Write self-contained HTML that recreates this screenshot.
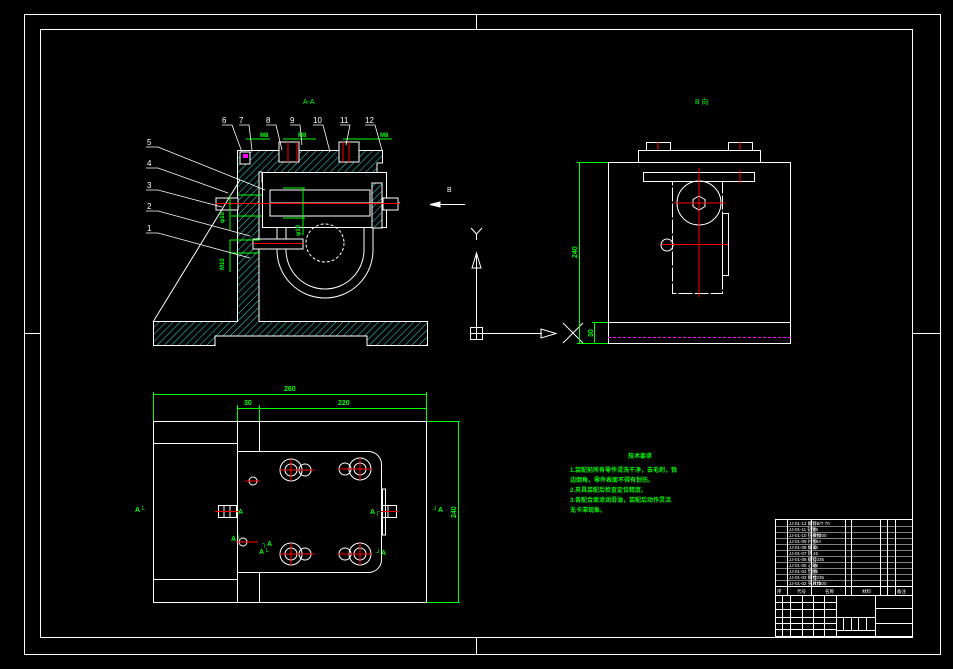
<!DOCTYPE html>
<html><head><meta charset="utf-8"><style>
html,body{margin:0;padding:0;background:#000;}
svg{display:block;}
text{font-family:"Liberation Sans","Noto Sans CJK SC",sans-serif;}
</style></head><body>
<svg width="953" height="669" viewBox="0 0 953 669" xmlns="http://www.w3.org/2000/svg">
<defs>
<pattern id="h" width="5" height="5" patternUnits="userSpaceOnUse" patternTransform="rotate(45)">
<rect width="5" height="5" fill="#000"/><line x1="0" y1="0" x2="0" y2="5" stroke="#2ee0e0" stroke-width="1"/>
</pattern>
</defs>
<rect width="953" height="669" fill="#000"/>
<g fill="none" stroke="#fff" stroke-width="1">
<rect x="24.5" y="14.5" width="916" height="640"/>
<rect x="40.5" y="29.5" width="872" height="608"/>
<line x1="476.5" y1="14" x2="476.5" y2="29"/><line x1="476.5" y1="638" x2="476.5" y2="654"/>
<line x1="24" y1="333.5" x2="40" y2="333.5"/><line x1="913" y1="333.5" x2="940" y2="333.5"/>
</g>

<!-- Section A-A -->
<text x="303" y="104" fill="#0f0" font-size="7">A-A</text>
<g stroke="#fff" stroke-width="1">
<path d="M153.5 321.5 H237.5 V150.5 H382.5 V163 H377 V200 H372 V182 H262 V172 H259 V321.5 H427.5 V345.5 H367 V336 H215 V345.5 H153.5 Z" fill="url(#h)"/>
<rect x="262.5" y="172.5" width="124" height="55" fill="#000"/>
<rect x="372" y="183" width="10" height="45" fill="url(#h)"/>
<path d="M277 228 V250 A48 48 0 0 0 373 250 V228" fill="none"/>
<path d="M286 228 V250 A39 39 0 0 0 364 250 V228" fill="none"/>
<circle cx="325" cy="243" r="19" fill="none" stroke-dasharray="3 2"/>
<rect x="270" y="190" width="100" height="26" fill="#000"/>
<line x1="270" y1="203" x2="400" y2="203"/>
<rect x="216" y="198" width="22" height="12" fill="#000"/>
<rect x="383" y="198" width="15" height="12" fill="#000"/>
<rect x="253" y="239" width="50" height="10" fill="#000"/>
<rect x="240" y="152" width="10" height="12" fill="#000"/>
<rect x="279" y="142" width="20" height="20" fill="#000"/>
<rect x="339" y="142" width="20" height="20" fill="#000"/>
<line x1="153" y1="322" x2="240" y2="180"/>
</g>
<g stroke="#f00" stroke-width="1">
<line x1="215" y1="203.5" x2="400" y2="203.5"/>
<line x1="253" y1="243.5" x2="303" y2="243.5"/>
<line x1="288" y1="142" x2="288" y2="162"/><line x1="349" y1="142" x2="349" y2="162"/>
<line x1="297" y1="142" x2="297" y2="162"/><line x1="343" y1="142" x2="343" y2="162"/>
</g>
<rect x="243" y="154" width="5" height="4" fill="#f0f"/>
<g stroke="#0f0" stroke-width="1" fill="none">
<line x1="238" y1="195" x2="262" y2="195"/><line x1="231" y1="216" x2="262" y2="216"/>
<line x1="230" y1="195" x2="230" y2="230"/>
<line x1="283" y1="188" x2="305" y2="188"/><line x1="283" y1="218" x2="305" y2="218"/><line x1="303" y1="188" x2="303" y2="235"/>
<line x1="230" y1="240" x2="260" y2="240"/><line x1="230" y1="253" x2="260" y2="253"/><line x1="230" y1="240" x2="230" y2="272"/>
<line x1="246" y1="139" x2="270" y2="139"/><line x1="283" y1="139" x2="316" y2="139"/><line x1="343" y1="139" x2="392" y2="139"/>
</g>
<g fill="#0f0" font-size="6" font-weight="bold">
<text x="260" y="137">M8</text><text x="298" y="137">M8</text><text x="380" y="137">M8</text>
<text x="224" y="223" transform="rotate(-90 224 223)">φ10</text>
<text x="300" y="236" transform="rotate(-90 300 236)">φ10</text>
<text x="224" y="270" transform="rotate(-90 224 270)">M10</text>
</g>
<g fill="#fff" font-size="8">
<text x="147" y="145">5</text><text x="147" y="166">4</text><text x="147" y="188">3</text><text x="147" y="209">2</text><text x="147" y="231">1</text>
<text x="222" y="123">6</text><text x="239" y="123">7</text><text x="266" y="123">8</text><text x="290" y="123">9</text><text x="313" y="123">10</text><text x="340" y="123">11</text><text x="365" y="123">12</text>
</g>
<g stroke="#fff" stroke-width="0.8" fill="none">
<polyline points="146,147 158,147 265,190"/>
<polyline points="146,168 158,168 228,193"/>
<polyline points="146,190 158,190 222,207"/>
<polyline points="146,211 158,211 250,236"/>
<polyline points="146,233 158,233 250,258"/>
<polyline points="222,125 232,125 242,152"/>
<polyline points="239,125 249,125 252,150"/>
<polyline points="266,125 276,125 282,150"/>
<polyline points="290,125 300,125 302,145"/>
<polyline points="313,125 323,125 330,152"/>
<polyline points="340,125 350,125 346,145"/>
<polyline points="365,125 375,125 382,150"/>
</g>
<g stroke="#fff" fill="#fff">
<line x1="430" y1="204.5" x2="465" y2="204.5"/>
<polygon points="430,204.5 440,202 440,207"/>
</g>
<text x="447" y="192" fill="#fff" font-size="7">B</text>

<!-- axes -->
<g stroke="#fff" fill="none">
<line x1="476.5" y1="255" x2="476.5" y2="339"/>
<polygon points="476.5,253 472,268 481,268"/>
<line x1="470" y1="333.5" x2="542" y2="333.5"/>
<polygon points="556,333.5 541,329 541,338"/>
<rect x="470.5" y="327.5" width="12" height="12"/>
<polyline points="471,228 476.5,234 482,228"/><line x1="476.5" y1="234" x2="476.5" y2="240"/>
</g>

<!-- Right view -->
<text x="695" y="104" fill="#0f0" font-size="7">B 向</text>
<g stroke="#fff" fill="none">
<rect x="608.5" y="162.5" width="182" height="181"/>
<line x1="608" y1="322.5" x2="791" y2="322.5"/>
<rect x="638.5" y="150.5" width="122" height="12"/>
<rect x="646.5" y="142.5" width="24" height="8"/><rect x="728.5" y="142.5" width="24" height="8"/>
<rect x="643.5" y="172.5" width="111" height="9"/>
<circle cx="699" cy="203" r="22"/>
<polygon points="699,196 705,199.5 705,206.5 699,210 693,206.5 693,199.5"/>
<rect x="672.5" y="181.5" width="50" height="112" stroke-dasharray="14 2"/>
<rect x="722.5" y="213.5" width="6" height="62"/>
<circle cx="667" cy="245" r="6"/>
<polyline points="563,323 583,343"/><polyline points="583,323 563,343"/>
</g>
<g stroke="#f00">
<line x1="699" y1="168" x2="699" y2="297"/><line x1="674" y1="203" x2="725" y2="203"/>
<line x1="662" y1="244.5" x2="728" y2="244.5"/>
<line x1="658" y1="142" x2="658" y2="150"/><line x1="740" y1="142" x2="740" y2="150"/><line x1="740" y1="170" x2="740" y2="183"/>
</g>
<line x1="608" y1="337.5" x2="791" y2="337.5" stroke="#f0f" stroke-dasharray="3 2"/>
<g stroke="#0f0" fill="none">
<line x1="579.5" y1="162" x2="579.5" y2="344"/>
<line x1="577" y1="162.5" x2="608" y2="162.5"/><line x1="577" y1="343.5" x2="608" y2="343.5"/>
<line x1="594.5" y1="322" x2="594.5" y2="344"/><line x1="592" y1="322.5" x2="608" y2="322.5"/>
</g>
<g fill="#0f0" font-size="7" font-weight="bold">
<text x="577" y="258" transform="rotate(-90 577 258)">240</text>
<text x="593" y="337" transform="rotate(-90 593 337)">30</text>
</g>

<!-- Plan view -->
<g stroke="#fff" fill="none">
<rect x="153.5" y="421.5" width="273" height="181"/>
<line x1="237.5" y1="421" x2="237.5" y2="602"/>
<line x1="259.5" y1="421" x2="259.5" y2="451"/><line x1="259.5" y1="572" x2="259.5" y2="602"/>
<line x1="153" y1="443.5" x2="237" y2="443.5"/><line x1="153" y1="579.5" x2="237" y2="579.5"/>
<path d="M237.5 451.5 H368 A13 13 0 0 1 381.5 464 V559 A13 13 0 0 1 368 572.5 H237.5"/>
<circle cx="291" cy="470" r="11"/><circle cx="291" cy="470" r="6"/><circle cx="305" cy="470" r="6"/>
<circle cx="360" cy="469" r="11"/><circle cx="360" cy="469" r="6"/><circle cx="345" cy="469" r="6"/>
<circle cx="291" cy="554" r="11"/><circle cx="291" cy="554" r="6"/><circle cx="305" cy="554" r="6"/>
<circle cx="360" cy="554" r="11"/><circle cx="360" cy="554" r="6"/><circle cx="345" cy="554" r="6"/>
<circle cx="253" cy="481" r="4"/><circle cx="243" cy="542" r="4"/>
<rect x="218.5" y="505.5" width="18" height="12"/><line x1="224" y1="505" x2="224" y2="517"/><line x1="230" y1="505" x2="230" y2="517"/>
<rect x="381.5" y="505.5" width="15" height="12"/><line x1="388" y1="505" x2="388" y2="517"/>
<rect x="382.5" y="489" width="3" height="46"/>
</g>
<g stroke="#f00">
<line x1="280" y1="470" x2="315" y2="470"/><line x1="291" y1="459" x2="291" y2="481"/>
<line x1="338" y1="469" x2="372" y2="469"/><line x1="360" y1="458" x2="360" y2="480"/>
<line x1="280" y1="554" x2="315" y2="554"/><line x1="291" y1="543" x2="291" y2="565"/>
<line x1="338" y1="554" x2="372" y2="554"/><line x1="360" y1="543" x2="360" y2="565"/>
<line x1="215" y1="511.5" x2="240" y2="511.5"/><line x1="381" y1="511.5" x2="398" y2="511.5"/>
<line x1="245" y1="481" x2="260" y2="481"/><line x1="236" y1="542" x2="258" y2="542"/>
</g>
<g stroke="#0f0" fill="none">
<line x1="153.5" y1="392" x2="153.5" y2="421"/><line x1="426.5" y1="392" x2="426.5" y2="421"/>
<line x1="153" y1="394.5" x2="427" y2="394.5"/>
<line x1="237.5" y1="405" x2="237.5" y2="421"/><line x1="259.5" y1="405" x2="259.5" y2="421"/>
<line x1="237" y1="408.5" x2="427" y2="408.5"/>
<line x1="427" y1="421.5" x2="460" y2="421.5"/><line x1="427" y1="602.5" x2="460" y2="602.5"/>
<line x1="458.5" y1="421" x2="458.5" y2="603"/>
</g>
<g fill="#0f0" font-size="7" font-weight="bold">
<text x="284" y="391">260</text><text x="244" y="405">30</text><text x="338" y="405">220</text>
<text x="456" y="518" transform="rotate(-90 456 518)">240</text>
<text x="135" y="512">A└</text><text x="238" y="514">A</text><text x="370" y="514">A┌</text><text x="433" y="512">┘A</text>
<text x="231" y="541">A└</text><text x="262" y="546">┐A</text><text x="259" y="554">A└</text><text x="376" y="555">┘A</text>
</g>

<!-- Technical notes -->
<g fill="#0f0" font-size="6" font-weight="bold">
<text x="628" y="458">技术要求</text>
<text x="570" y="472">1.装配前所有零件清洗干净，去毛刺，锐</text>
<text x="570" y="482">边倒角，零件表面不得有划伤。</text>
<text x="570" y="492">2.夹具装配后检查定位精度。</text>
<text x="570" y="502">3.各配合面涂润滑油，装配后动作灵活</text>
<text x="570" y="512">无卡滞现象。</text>
</g>

<!-- Title block -->
<g stroke="#fff" fill="none" stroke-width="1">
<rect x="775.5" y="519.5" width="137" height="117"/>
<line x1="787.5" y1="519" x2="787.5" y2="595"/>
<line x1="811.5" y1="519" x2="811.5" y2="595"/>
<line x1="845.5" y1="519" x2="845.5" y2="595"/>
<line x1="851.5" y1="519" x2="851.5" y2="595"/>
<line x1="880.5" y1="519" x2="880.5" y2="595"/>
<line x1="887.5" y1="519" x2="887.5" y2="595"/>
<line x1="895.5" y1="519" x2="895.5" y2="595"/>
<line x1="775" y1="586.5" x2="913" y2="586.5"/>
<line x1="775" y1="595.5" x2="913" y2="595.5"/>
<line x1="836.5" y1="595" x2="836.5" y2="636"/>
<line x1="875.5" y1="595" x2="875.5" y2="636"/>
<line x1="875" y1="608.5" x2="913" y2="608.5"/><line x1="875" y1="623.5" x2="913" y2="623.5"/>
<line x1="836" y1="617.5" x2="875" y2="617.5"/><line x1="836" y1="630.5" x2="875" y2="630.5"/>
<line x1="843.5" y1="617" x2="843.5" y2="631"/><line x1="851.5" y1="617" x2="851.5" y2="631"/><line x1="858.5" y1="617" x2="858.5" y2="631"/><line x1="866.5" y1="617" x2="866.5" y2="631"/>
<line x1="775" y1="602.5" x2="836" y2="602.5"/><line x1="775" y1="609.5" x2="836" y2="609.5"/><line x1="775" y1="617.5" x2="836" y2="617.5"/><line x1="775" y1="623.5" x2="836" y2="623.5"/><line x1="775" y1="629.5" x2="836" y2="629.5"/>
<line x1="782.5" y1="595" x2="782.5" y2="636"/><line x1="790.5" y1="595" x2="790.5" y2="636"/><line x1="802.5" y1="595" x2="802.5" y2="636"/><line x1="813.5" y1="595" x2="813.5" y2="636"/><line x1="824.5" y1="595" x2="824.5" y2="636"/>
</g>
<g stroke="#fff" stroke-width="0.6">
<line x1="775" y1="526.5" x2="913" y2="526.5"/><line x1="775" y1="532.5" x2="913" y2="532.5"/>
<line x1="775" y1="538.5" x2="913" y2="538.5"/><line x1="775" y1="544.5" x2="913" y2="544.5"/>
<line x1="775" y1="550.5" x2="913" y2="550.5"/><line x1="775" y1="556.5" x2="913" y2="556.5"/>
<line x1="775" y1="562.5" x2="913" y2="562.5"/><line x1="775" y1="568.5" x2="913" y2="568.5"/>
<line x1="775" y1="574.5" x2="913" y2="574.5"/><line x1="775" y1="580.5" x2="913" y2="580.5"/>
</g>
<g fill="#fff" font-size="4.5">
<text x="789" y="525">JJ-01-12 螺钉</text><text x="813" y="525">GB/T 70</text>
<text x="789" y="531">JJ-01-11 钻套</text><text x="813" y="531">45</text>
<text x="789" y="537">JJ-01-10 钻模板</text><text x="813" y="537">HT200</text>
<text x="789" y="543">JJ-01-09 衬套</text><text x="813" y="543">T8A</text>
<text x="789" y="549">JJ-01-08 螺母</text><text x="813" y="549">45</text>
<text x="789" y="555">JJ-01-07 销</text><text x="813" y="555">45</text>
<text x="789" y="561">JJ-01-06 螺钉</text><text x="813" y="561">Q235</text>
<text x="789" y="567">JJ-01-05 心轴</text><text x="813" y="567">45</text>
<text x="789" y="573">JJ-01-04 垫圈</text><text x="813" y="573">45</text>
<text x="789" y="579">JJ-01-03 螺栓</text><text x="813" y="579">Q235</text>
<text x="789" y="585">JJ-01-02 夹具体</text><text x="813" y="585">HT200</text>
<text x="777" y="593">序</text><text x="797" y="593">代号</text><text x="825" y="593">名称</text><text x="862" y="593">材料</text><text x="897" y="593">备注</text>
</g>
</svg>
</body></html>
